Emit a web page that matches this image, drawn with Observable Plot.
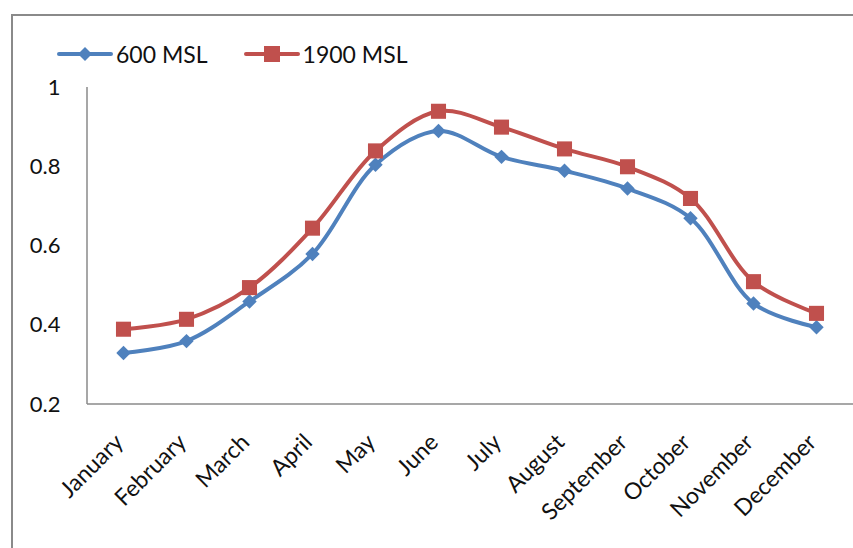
<!DOCTYPE html>
<html>
<head>
<meta charset="utf-8">
<script src="https://cdn.jsdelivr.net/npm/d3@7"></script>
<script src="https://cdn.jsdelivr.net/npm/@observablehq/plot@0.6"></script>
<style>
  html, body { margin: 0; padding: 0; background: #fff; }
  #wrap { position: relative; width: 853px; height: 548px; overflow: hidden; font-family: Lato, "Open Sans", sans-serif; }
  #frame { position: absolute; left: 11px; top: 14px; width: 900px; height: 600px; border-left: 2px solid #8a8a8a; border-top: 2px solid #8a8a8a; box-sizing: border-box; }
  #legend { position: absolute; left: 57px; top: 40px; display: flex; align-items: center; font-size: 23px; color: #111; }
  .item { display: flex; align-items: center; margin-right: 36px; }
  .item svg { margin-right: 3px; }
  #chart { position: absolute; left: 0; top: 0; }
</style>
</head>
<body>
<div id="wrap">
  <div id="frame"></div>
  <div id="chart"></div>
  <div id="legend"></div>
</div>
<script>
const months = ["January","February","March","April","May","June","July","August","September","October","November","December"];
const msl600  = [0.33, 0.36, 0.46, 0.58, 0.805, 0.89, 0.825, 0.79, 0.745, 0.67, 0.455, 0.395];
const msl1900 = [0.39, 0.415, 0.495, 0.645, 0.84, 0.94, 0.9, 0.845, 0.8, 0.72, 0.51, 0.43];
const seriesNames = ["600 MSL", "1900 MSL"];
const seriesColors = ["#4F81BD", "#C0504D"];
const yTicks = [0.2, 0.4, 0.6, 0.8, 1];

const d600 = months.map((m, i) => ({month: m, value: msl600[i], series: seriesNames[0]}));
const d1900 = months.map((m, i) => ({month: m, value: msl1900[i], series: seriesNames[1]}));

const axisColor = "#8a8a8a";

const axisLines = (index, scales, values, dimensions) => {
  const g = d3.create("svg:g");
  g.append("line")
    .attr("x1", dimensions.marginLeft).attr("x2", dimensions.marginLeft)
    .attr("y1", dimensions.marginTop).attr("y2", dimensions.height - dimensions.marginBottom)
    .attr("stroke", axisColor).attr("stroke-width", 1.5);
  g.append("line")
    .attr("x1", dimensions.marginLeft).attr("x2", dimensions.width - dimensions.marginRight + 2)
    .attr("y1", dimensions.height - dimensions.marginBottom).attr("y2", dimensions.height - dimensions.marginBottom)
    .attr("stroke", axisColor).attr("stroke-width", 1.5);
  return g.node();
};

const chart = Plot.plot({
  width: 853,
  height: 548,
  marginLeft: 87,
  marginRight: 2,
  marginTop: 87,
  marginBottom: 144,
  style: {fontFamily: "Lato, 'Open Sans', sans-serif", fontSize: "22px", color: "#111", background: "transparent", overflow: "visible"},
  x: {type: "point", domain: months, padding: 0.5},
  y: {domain: [0.2, 1]},
  marks: [
    axisLines,
    Plot.axisY({ticks: yTicks, tickSize: 0, tickPadding: 27, tickFormat: d => String(d), fontSize: 22, label: null}),
    Plot.axisX({tickSize: 0, tickPadding: 34, dx: -4, tickRotate: -45, fontSize: 23, label: null}),
    Plot.line(d600, {x: "month", y: "value", stroke: seriesColors[0], strokeWidth: 4, curve: "catmull-rom"}),
    Plot.dot(d600, {x: "month", y: "value", symbol: "diamond2", r: 6.5, fill: seriesColors[0], stroke: "none"}),
    Plot.line(d1900, {x: "month", y: "value", stroke: seriesColors[1], strokeWidth: 4, curve: "catmull-rom"}),
    Plot.dot(d1900, {x: "month", y: "value", symbol: "square", r: 8.5, fill: seriesColors[1], stroke: "none"})
  ]
});
document.getElementById("chart").appendChild(chart);

// Legend
const legend = d3.select("#legend");
seriesNames.forEach((name, i) => {
  const item = legend.append("div").attr("class", "item");
  const sw = item.append("svg").attr("width", 56).attr("height", 20);
  sw.append("line").attr("x1", 2).attr("x2", 54).attr("y1", 10).attr("y2", 10)
    .attr("stroke", seriesColors[i]).attr("stroke-width", 4).attr("stroke-linecap", "round");
  if (i === 0) {
    sw.append("path").attr("d", "M28,3 L35,10 L28,17 L21,10 Z").attr("fill", seriesColors[i]);
  } else {
    sw.append("rect").attr("x", 20).attr("y", 2).attr("width", 16).attr("height", 16).attr("fill", seriesColors[i]);
  }
  item.append("span").text(name);
});
</script>
</body>
</html>
